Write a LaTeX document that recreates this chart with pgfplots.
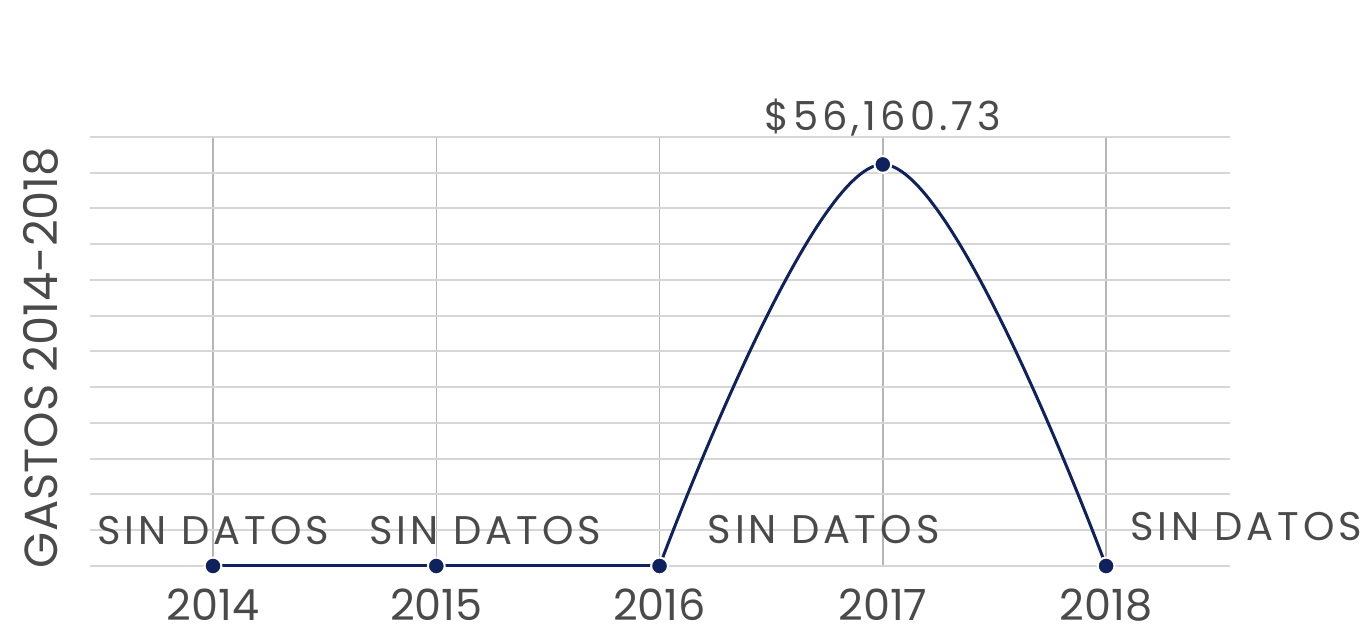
\documentclass[border=0pt]{standalone}
\usepackage{pgfplots}
\pgfplotsset{compat=1.18}
\usepackage{pgfplotstable}
\usepackage{fontspec}
\setmainfont{Poppins}
\newfontfamily\spaced[LetterSpace=10]{Poppins}
\definecolor{navy}{RGB}{16,34,94}
\definecolor{txt}{RGB}{74,74,74}
\definecolor{gridc}{RGB}{214,214,214}
\pgfplotstableread[col sep=semicolon]{
x;y;dx;dy;lab
2014;0;0;17.5;SIN DATOS
2015;0;24.5;17.5;SIN DATOS
2016;0;82;18;SIN DATOS
2017;56160.73;0;23.5;\$56,160.73
2018;0;70;19.5;SIN DATOS
}\datatable
\begin{document}
\begin{tikzpicture}
\useasboundingbox (-45pt,-30pt) rectangle (638.5pt,283pt);
\begin{axis}[
  at={(0,0)}, anchor=south west,
  scale only axis, width=570pt, height=214.5pt,
  xmin=2013.449, xmax=2018.555,
  ymin=0, ymax=60000,
  xtick={2014,2015,2016,2017,2018},
  xticklabels={2014,2015,2016,2017,2018},
  ytick={0,5000,...,60000},
  yticklabels={},
  scaled y ticks=false,
  major tick length=0pt,
  axis line style={draw=none},
  xmajorgrids, ymajorgrids,
  x grid style={draw=gridc!85!black, line width=0.7pt},
  y grid style={draw=gridc, line width=1pt},
  xticklabel style={font=\fontsize{21.5}{26}\selectfont, text=txt, inner sep=0pt, yshift=-11pt},
  ylabel={GASTOS 2014-2018},
  ylabel style={at={(axis description cs:-0.043,0.486)}, anchor=center, font=\fontsize{23.2}{28}\selectfont, text=txt},
  clip=false,
]
\addplot[navy, line width=1.5pt, mark=none] table[x=x,y=y] {
x y
2014 0
2015 0
2016 0
};
\addplot[navy, line width=1.5pt, mark=none, smooth, tension=0.6] table[x=x,y=y] {
x y
2016 0
2017 56160.73
2018 0
};
\addplot[only marks, mark=*, mark size=4.2pt, mark options={fill=navy, draw=white, line width=1pt},
  nodes near coords, point meta=explicit symbolic,
  visualization depends on={\thisrow{dx}\as\dx},
  visualization depends on={\thisrow{dy}\as\dy},
  nodes near coords style={anchor=center, xshift=\dx pt, yshift=\dy pt, text=txt, font=\spaced\fontsize{20}{24}\selectfont, inner sep=0pt}
] table[x=x,y=y,meta=lab] {\datatable};
\end{axis}
\end{tikzpicture}
\end{document}
